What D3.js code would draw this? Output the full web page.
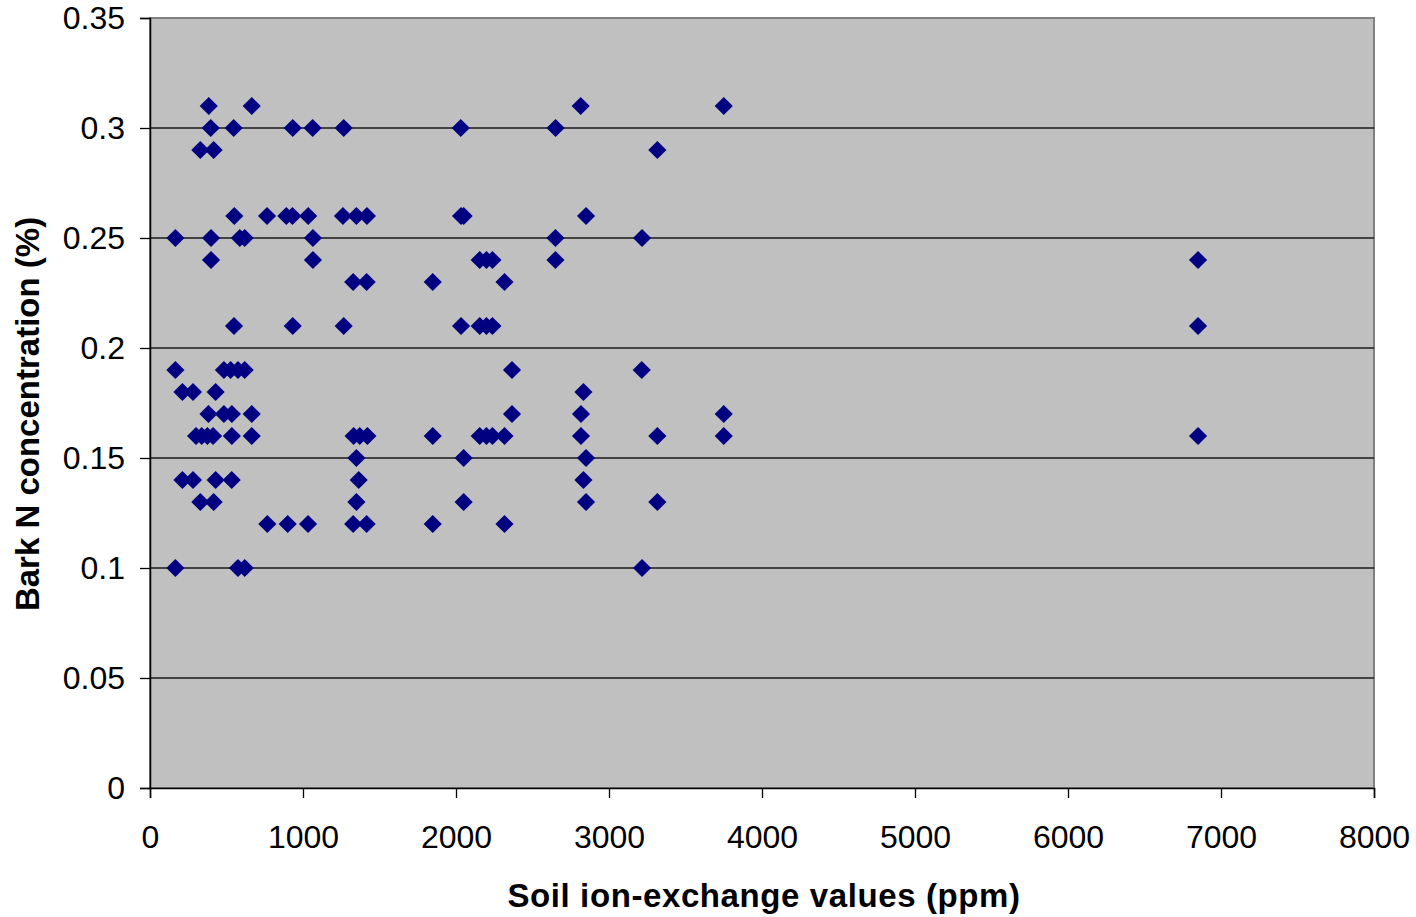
<!DOCTYPE html>
<html>
<head>
<meta charset="utf-8">
<script src="https://cdn.jsdelivr.net/npm/d3@7"></script>
<style>
  html, body { margin: 0; padding: 0; background: #fff; }
  svg { display: block; font-family: "Liberation Sans", Arial, sans-serif; }
</style>
</head>
<body>
<svg id="chart" width="1416" height="917"></svg>
<script>
// Soil ion-exchange value (ppm) for each sample
const soilPpm = [
  384, 665, 2815, 3750,
  397, 547, 933, 1063, 1266, 2031, 2651,
  329, 416, 3316,
  551, 765, 891, 931, 1034, 1261, 1349, 1418, 2033, 2050, 2850,
  166, 399, 587, 619, 1065, 2650, 3216,
  399, 1065, 2155, 2199, 2238, 2650, 6850,
  1328, 1416, 1848, 2317,
  549, 933, 1266, 2033, 2155, 2199, 2238, 6850,
  166, 483, 527, 575, 619, 2366, 3214,
  212, 281, 429, 2833,
  382, 483, 535, 665, 2366, 2817, 3750,
  301, 338, 375, 412, 535, 665, 1331, 1371, 1421, 1848, 2155, 2199, 2238, 2317, 2817, 3316, 3750, 6850,
  1349, 2050, 2850,
  212, 281, 429, 534, 1364, 2833,
  329, 416, 1349, 2050, 2850, 3316,
  767, 900, 1033, 1328, 1416, 1848, 2317,
  166, 575, 619, 3216
];

// Bark N concentration (%) for the same samples, in the same order
const barkN = [
  0.31, 0.31, 0.31, 0.31,
  0.30, 0.30, 0.30, 0.30, 0.30, 0.30, 0.30,
  0.29, 0.29, 0.29,
  0.26, 0.26, 0.26, 0.26, 0.26, 0.26, 0.26, 0.26, 0.26, 0.26, 0.26,
  0.25, 0.25, 0.25, 0.25, 0.25, 0.25, 0.25,
  0.24, 0.24, 0.24, 0.24, 0.24, 0.24, 0.24,
  0.23, 0.23, 0.23, 0.23,
  0.21, 0.21, 0.21, 0.21, 0.21, 0.21, 0.21, 0.21,
  0.19, 0.19, 0.19, 0.19, 0.19, 0.19, 0.19,
  0.18, 0.18, 0.18, 0.18,
  0.17, 0.17, 0.17, 0.17, 0.17, 0.17, 0.17,
  0.16, 0.16, 0.16, 0.16, 0.16, 0.16, 0.16, 0.16, 0.16, 0.16, 0.16, 0.16, 0.16, 0.16, 0.16, 0.16, 0.16, 0.16,
  0.15, 0.15, 0.15,
  0.14, 0.14, 0.14, 0.14, 0.14, 0.14,
  0.13, 0.13, 0.13, 0.13, 0.13, 0.13,
  0.12, 0.12, 0.12, 0.12, 0.12, 0.12, 0.12,
  0.10, 0.10, 0.10, 0.10
];

const xTicks = [0, 1000, 2000, 3000, 4000, 5000, 6000, 7000, 8000];
const yTicks = [0, 0.05, 0.1, 0.15, 0.2, 0.25, 0.3, 0.35];
const yTickLabels = ["0", "0.05", "0.1", "0.15", "0.2", "0.25", "0.3", "0.35"];

const xTitle = "Soil ion-exchange values (ppm)";
const yTitle = "Bark N concentration (%)";

const plot = { left: 150, right: 1374, top: 18, bottom: 788 };

const svg = d3.select("#chart");

const x = d3.scaleLinear().domain([0, 8000]).range([plot.left, plot.right]);
const y = d3.scaleLinear().domain([0, 0.35]).range([plot.bottom, plot.top]);

// plot area
svg.append("rect")
  .attr("x", plot.left).attr("y", plot.top)
  .attr("width", plot.right - plot.left).attr("height", plot.bottom - plot.top)
  .attr("fill", "#c0c0c0")
  .attr("stroke", "#808080").attr("stroke-width", 2);

// horizontal gridlines
svg.append("g")
  .selectAll("line")
  .data(yTicks.filter(v => v > 0 && v < 0.35))
  .join("line")
  .attr("x1", plot.left).attr("x2", plot.right)
  .attr("y1", d => y(d)).attr("y2", d => y(d))
  .attr("stroke", "#1a1a1a").attr("stroke-width", 1.4);

// axes
const fmtY = d => yTickLabels[yTicks.indexOf(d)];

const yAxis = svg.append("g")
  .attr("transform", `translate(${plot.left},0)`)
  .call(d3.axisLeft(y).tickValues(yTicks).tickFormat(fmtY).tickSize(10).tickPadding(15));

const xAxis = svg.append("g")
  .attr("transform", `translate(0,${plot.bottom})`)
  .call(d3.axisBottom(x).tickValues(xTicks).tickFormat(d3.format("d")).tickSize(10).tickPadding(27));

[yAxis, xAxis].forEach(g => {
  g.select(".domain").attr("stroke", "#000").attr("stroke-width", 1.5);
  g.selectAll(".tick line").attr("stroke", "#000").attr("stroke-width", 1.3);
  g.selectAll(".tick text")
    .attr("fill", "#000")
    .style("font-size", "32px")
    .style("font-family", "'Liberation Sans', Arial, sans-serif");
});

// markers
const diamond = d3.symbol().type(d3.symbolSquare).size(165);
svg.append("g")
  .selectAll("path")
  .data(soilPpm.map((v, i) => ({ ppm: v, n: barkN[i] })))
  .join("path")
  .attr("d", diamond)
  .attr("transform", d => `translate(${x(d.ppm)},${y(d.n)}) rotate(45)`)
  .attr("fill", "#000080");

// axis titles
svg.append("text")
  .attr("x", 764).attr("y", 907)
  .attr("text-anchor", "middle")
  .style("font-size", "33px").style("font-weight", "bold")
  .style("letter-spacing", "0.6px")
  .text(xTitle);

svg.append("text")
  .attr("transform", "translate(39,414) rotate(-90)")
  .attr("text-anchor", "middle")
  .style("font-size", "33px").style("font-weight", "bold")
  .text(yTitle);
</script>
</body>
</html>
